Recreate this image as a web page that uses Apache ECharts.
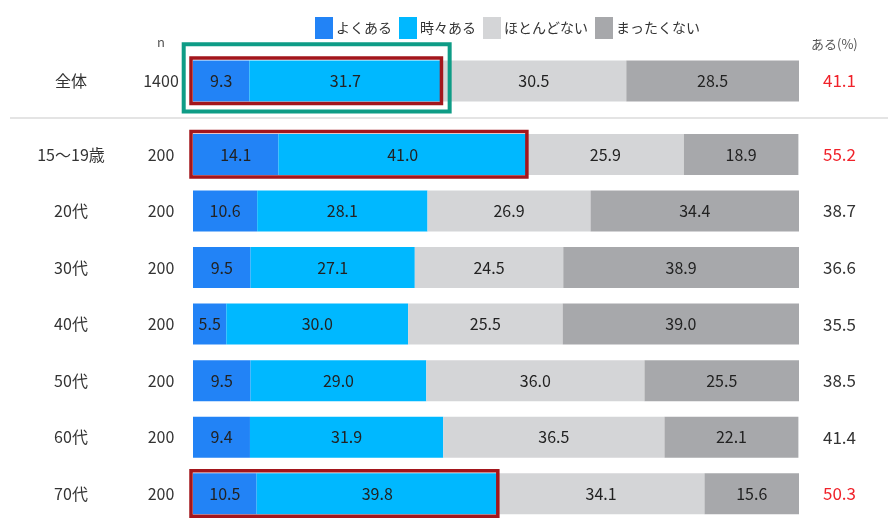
<!DOCTYPE html>
<html>
<head>
<meta charset="utf-8">
<script src="https://cdn.jsdelivr.net/npm/echarts@6/dist/echarts.min.js"></script>
<style>html,body{margin:0;padding:0;background:#fff}#c{width:888px;height:522px}</style>
</head>
<body>
<div id="c"></div>
<script>
// ---- data ----
const seriesNames = ['よくある', '時々ある', 'ほとんどない', 'まったくない'];
// overall row
const totalCategories = ['全体'];
const totalN = [1400];
const totalOften = [9.3];
const totalSometimes = [31.7];
const totalRarely = [30.5];
const totalNever = [28.5];
const totalAru = [41.1];
const totalHighlight = [true];
// age rows
const ageCategories = ['15～19歳', '20代', '30代', '40代', '50代', '60代', '70代'];
const ageN = [200, 200, 200, 200, 200, 200, 200];
const ageOften = [14.1, 10.6, 9.5, 5.5, 9.5, 9.4, 10.5];
const ageSometimes = [41.0, 28.1, 27.1, 30.0, 29.0, 31.9, 39.8];
const ageRarely = [25.9, 26.9, 24.5, 25.5, 36.0, 36.5, 34.1];
const ageNever = [18.9, 34.4, 38.9, 39.0, 25.5, 22.1, 15.6];
const ageAru = [55.2, 38.7, 36.6, 35.5, 38.5, 41.4, 50.3];
const ageHighlight = [true, false, false, false, false, false, true];
// boxed rows
const totalRedBox = ['全体'];
const totalGreenBox = ['全体'];
const ageRedBox = ['15～19歳', '70代'];

// ---- styles ----
const FONT = '"Noto Sans CJK JP", "Noto Sans", sans-serif';
const COLORS = ['#2283F6', '#00B8FF', '#D4D5D7', '#A7A8AB'];
const BAR = 41;

function boxRender(padL, padR, padT, padB, color, lw) {
  return function (params, api) {
    const idx = api.value(1);
    const v = api.value(0);
    const p0 = api.coord([0, idx]);
    const p1 = api.coord([v, idx]);
    const half = BAR / 2;
    return {
      type: 'rect',
      shape: { x: p0[0] - padL, y: p0[1] - half - padT, width: p1[0] - p0[0] + padL + padR, height: 2 * half + padT + padB },
      style: { fill: 'none', stroke: color, lineWidth: lw }
    };
  };
}

function boxData(cats, boxCats, often, sometimes) {
  return boxCats.map(c => { const i = cats.indexOf(c); return [+(often[i] + sometimes[i]).toFixed(1), i]; });
}

function leftAxis(gridIndex, cats, ns) {
  return {
    type: 'category', gridIndex: gridIndex, data: cats, inverse: true, position: 'left',
    axisLine: { show: false }, axisTick: { show: false },
    axisLabel: {
      margin: 12,
      formatter: (v, i) => '{c|' + v + '}{n|' + ns[i] + '}',
      rich: {
        c: { width: 140, align: 'center', fontSize: 16, color: '#333', fontFamily: FONT },
        n: { width: 40, align: 'center', fontSize: 16, color: '#333', fontFamily: FONT }
      }
    }
  };
}
function rightAxis(gridIndex, cats, aru, hl) {
  return {
    type: 'category', gridIndex: gridIndex, data: cats, inverse: true, position: 'right',
    axisLine: { show: false }, axisTick: { show: false },
    axisLabel: {
      margin: 24, align: 'left',
      formatter: (v, i) => (hl[i] ? '{r|' : '{k|') + aru[i].toFixed(1) + '}',
      rich: {
        r: { fontSize: 17, color: '#F0222A', fontFamily: FONT },
        k: { fontSize: 17, color: '#333', fontFamily: FONT }
      }
    }
  };
}

function barSeries(gridIdx, stack, arrays) {
  return arrays.map((arr, k) => ({
    name: seriesNames[k], type: 'bar', stack: stack,
    xAxisIndex: gridIdx, yAxisIndex: gridIdx * 2,
    barWidth: BAR, data: arr,
    itemStyle: { color: COLORS[k] },
    label: { show: true, position: 'inside', color: '#222', fontSize: 16, fontFamily: FONT,
      formatter: p => p.value.toFixed(1) }
  }));
}

const chart = echarts.init(document.getElementById('c'), null, { renderer: 'canvas' });
chart.setOption({
  animation: false,
  textStyle: { fontFamily: FONT },
  legend: {
    data: seriesNames, left: 310, top: 12, itemWidth: 18, itemHeight: 22, itemGap: 7,
    icon: 'rect', textStyle: { fontSize: 14, color: '#333', fontFamily: FONT, padding: [0, 0, 0, -2] }
  },
  grid: [
    { left: 193, right: 89, top: 52, height: 58 },
    { left: 193, right: 89, top: 126.2, height: 403.2 }
  ],
  xAxis: [
    { type: 'value', gridIndex: 0, min: 0, max: 100, show: false },
    { type: 'value', gridIndex: 1, min: 0, max: 100, show: false }
  ],
  yAxis: [
    leftAxis(0, totalCategories, totalN),
    rightAxis(0, totalCategories, totalAru, totalHighlight),
    leftAxis(1, ageCategories, ageN),
    rightAxis(1, ageCategories, ageAru, ageHighlight)
  ],
  graphic: [
    { type: 'line', shape: { x1: 10, y1: 118, x2: 888, y2: 118 }, style: { stroke: '#E4E4E4', lineWidth: 2 } },
    { type: 'text', left: 157, top: 36, style: { text: 'n', fontSize: 13, fill: '#555', fontFamily: FONT } },
    { type: 'text', left: 811, top: 38, style: { text: 'ある(%)', fontSize: 13, fill: '#555', fontFamily: FONT } }
  ],
  series: [].concat(
    barSeries(0, 't', [totalOften, totalSometimes, totalRarely, totalNever]),
    barSeries(1, 'a', [ageOften, ageSometimes, ageRarely, ageNever]),
    [
      { type: 'custom', xAxisIndex: 0, yAxisIndex: 0, z: 5, silent: true,
        renderItem: boxRender(2, 0, 2.5, 2, '#A3161C', 3.5),
        encode: { x: 0, y: 1 }, data: boxData(totalCategories, totalRedBox, totalOften, totalSometimes) },
      { type: 'custom', xAxisIndex: 0, yAxisIndex: 0, z: 5, silent: true,
        renderItem: boxRender(9.3, 8.2, 16.3, 10, '#0E9C86', 4),
        encode: { x: 0, y: 1 }, data: boxData(totalCategories, totalGreenBox, totalOften, totalSometimes) },
      { type: 'custom', xAxisIndex: 1, yAxisIndex: 2, z: 5, silent: true,
        renderItem: boxRender(2, 0, 2.5, 2, '#A3161C', 3.5),
        encode: { x: 0, y: 1 }, data: boxData(ageCategories, ageRedBox, ageOften, ageSometimes) }
    ]
  )
});
</script>
</body>
</html>
